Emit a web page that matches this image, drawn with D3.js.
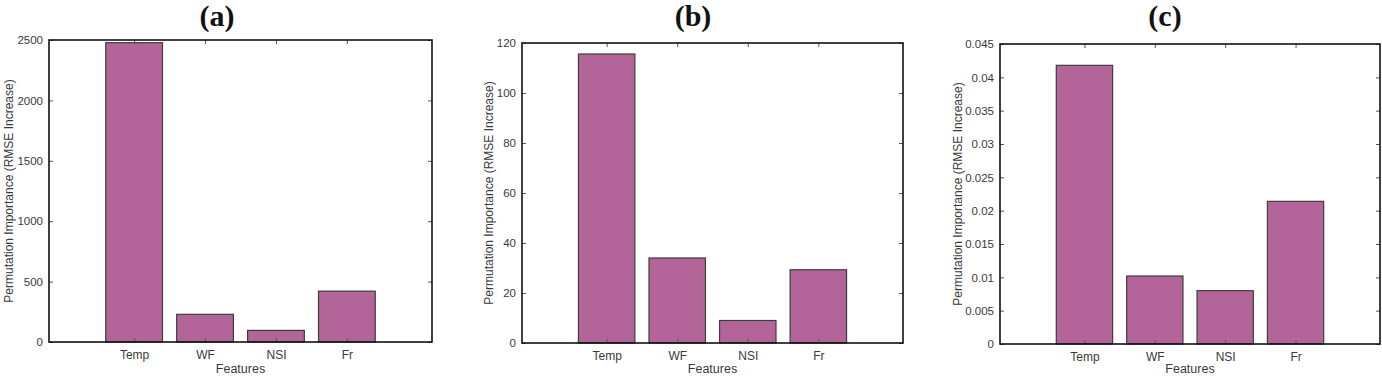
<!DOCTYPE html>
<html>
<head>
<meta charset="utf-8">
<script src="https://cdn.jsdelivr.net/npm/d3@7"></script>
<style>
    body { margin: 0; background: #fff; }
    .tick text, .lbl { font-family: "Liberation Sans", Arial, sans-serif; fill: #3a3a3a; }
    .panel-title { font-family: "Liberation Serif", "Times New Roman", serif; font-weight: bold; fill: #111; }
</style>
</head>
<body>
<div id="chart"></div>
<script>
// features on the x axis (same for every panel)
const features = ['Temp', 'WF', 'NSI', 'Fr'];

// permutation importance
const valuesA = [2478, 229, 96, 421];
const valuesB = [115.6, 34.0, 9.0, 29.3];
const valuesC = [0.0418, 0.0102, 0.0080, 0.0214];

// y tick values
const ticksA = [0, 500, 1000, 1500, 2000, 2500];
const ticksB = [0, 20, 40, 60, 80, 100, 120];
const ticksC = [0, 0.005, 0.01, 0.015, 0.02, 0.025, 0.03, 0.035, 0.04, 0.045];

const panelTitles = ['(a)', '(b)', '(c)'];

const svg = d3.select('#chart').append('svg')
    .attr('width', 1382)
    .attr('height', 378);

const panels = [
    {title: panelTitles[0], values: valuesA, ticks: ticksA, left: 49, right: 432, top: 40, bottom: 342, titleX: 217, yTitleX: 9},
    {title: panelTitles[1], values: valuesB, ticks: ticksB, left: 522, right: 903, top: 43, bottom: 343, titleX: 693, yTitleX: 489},
    {title: panelTitles[2], values: valuesC, ticks: ticksC, left: 1000, right: 1380, top: 44, bottom: 344, titleX: 1165, yTitleX: 958}
];

panels.forEach(p => drawPanel(p));

function drawPanel(p) {
    const width = p.right - p.left;
    const height = p.bottom - p.top;

    const g = svg.append('g')
        .attr('transform', `translate(${p.left},${p.top})`);

    // categories sit at 1..4 on a [-0.2, 5.2] range, like the matlab plot
    const xScale = d3.scaleLinear()
        .domain([-0.2, 5.2])
        .range([0, width]);

    const yScale = d3.scaleLinear()
        .domain([0, d3.max(p.ticks)])
        .range([height, 0]);

    const barW = xScale(0.8) - xScale(0);
    const fmt = d => String(+d.toFixed(4));

    // bars
    g.selectAll('rect.bar')
        .data(p.values)
        .join('rect')
        .attr('class', 'bar')
        .attr('x', (d, i) => xScale(i + 1) - barW / 2)
        .attr('y', d => yScale(d))
        .attr('width', barW)
        .attr('height', d => height - yScale(d))
        .style('fill', '#b36599')
        .style('stroke', '#3d3d3d')
        .style('stroke-width', 1.2);

    // left axis with inner ticks
    const yAxis = d3.axisLeft(yScale)
        .tickValues(p.ticks)
        .tickSize(-4)
        .tickPadding(6)
        .tickFormat(fmt);

    const yAxisG = g.append('g')
        .attr('class', 'axis y-axis')
        .call(yAxis);
    yAxisG.selectAll('text').style('font-size', '11.5px');

    // right side ticks
    const yAxisR = d3.axisRight(yScale)
        .tickValues(p.ticks)
        .tickSize(-4)
        .tickFormat('');
    g.append('g')
        .attr('transform', `translate(${width},0)`)
        .call(yAxisR);

    // bottom axis
    const xAxis = d3.axisBottom(xScale)
        .tickValues([1, 2, 3, 4])
        .tickSize(-4)
        .tickPadding(8)
        .tickFormat((d, i) => features[i]);

    const xAxisG = g.append('g')
        .attr('class', 'axis x-axis')
        .attr('transform', `translate(0,${height})`)
        .call(xAxis);
    xAxisG.selectAll('text').style('font-size', '12px');

    // top ticks
    const xAxisT = d3.axisTop(xScale)
        .tickValues([1, 2, 3, 4])
        .tickSize(-4)
        .tickFormat('');
    g.append('g').call(xAxisT);

    g.selectAll('.domain').remove();
    g.selectAll('.tick line').style('stroke', '#555');

    // frame
    g.append('rect')
        .attr('width', width)
        .attr('height', height)
        .style('fill', 'none')
        .style('stroke', '#111')
        .style('stroke-width', 1.6);

    // axis titles
    svg.append('text')
        .attr('class', 'lbl')
        .attr('x', (p.left + p.right) / 2)
        .attr('y', 373)
        .attr('text-anchor', 'middle')
        .style('font-size', '12.5px')
        .text('Features');

    svg.append('text')
        .attr('class', 'lbl')
        .attr('transform', `translate(${p.yTitleX},${p.top + height / 2}) rotate(-90)`)
        .attr('text-anchor', 'middle')
        .attr('dy', '0.35em')
        .style('font-size', '12px')
        .text('Permutation Importance (RMSE Increase)');

    // panel letter
    svg.append('text')
        .attr('class', 'panel-title')
        .attr('x', p.titleX)
        .attr('y', 26)
        .attr('text-anchor', 'middle')
        .style('font-size', '30px')
        .text(p.title);
}
</script>
</body>
</html>
